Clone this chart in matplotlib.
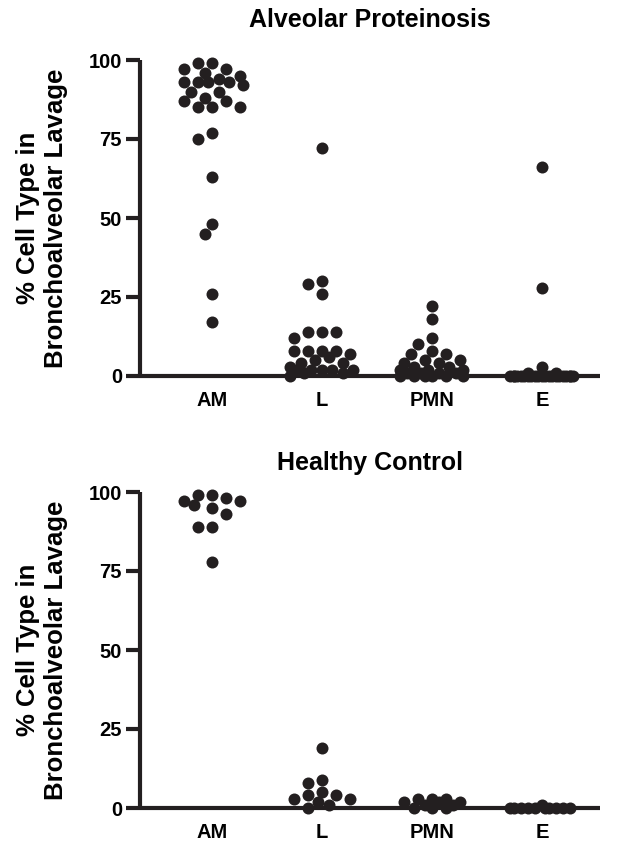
import matplotlib
matplotlib.use("Agg")
import matplotlib.pyplot as plt
import numpy as np

plt.rcParams['font.family'] = ['Liberation Sans', 'DejaVu Sans']
plt.rcParams['font.weight'] = 'bold'

INK = '#231f20'

categories = ['AM', 'L', 'PMN', 'E']
yticks = [0, 25, 50, 75, 100]

# Alveolar proteinosis (% of cells in BAL)
pap_am = [99, 99, 97, 97, 96, 95, 94, 93, 93, 93, 93, 92, 90, 90, 88, 87, 87,
          85, 85, 85, 77, 75, 63, 48, 45, 26, 17]
pap_l = [72, 30, 29, 26, 14, 14, 14, 12, 8, 8, 8, 8, 7, 6, 5, 4, 4, 3,
         2, 2, 2, 2, 2, 1, 1, 0]
pap_pmn = [22, 18, 12, 10, 8, 7, 7, 5, 5, 4, 4, 3, 3, 2, 2, 2, 1, 1, 1,
           1, 0, 0, 0, 0, 0, 0]
pap_e = [66, 28, 3, 1, 1, 0, 0, 0, 0, 0, 0, 0, 0, 0, 0, 0, 0, 0, 0, 0,
         0, 0, 0, 0, 0, 0]

# Healthy control
hc_am = [99, 99, 98, 97, 97, 95, 96, 93, 89, 89, 78]
hc_l = [19, 9, 8, 5, 4, 4, 3, 3, 2, 1, 0]
hc_pmn = [3, 3, 3, 2, 2, 2, 1, 1, 0, 0, 0]
hc_e = [1, 0, 0, 0, 0, 0, 0, 0, 0, 0, 0]

panels = [
    ('Alveolar Proteinosis', [pap_am, pap_l, pap_pmn, pap_e]),
    ('Healthy Control', [hc_am, hc_l, hc_pmn, hc_e]),
]

W, H = 618, 844
fig = plt.figure(figsize=(W / 100, H / 100), dpi=100)

DIAM = 12.0      # marker diameter in pixels
STEP = 7.0       # horizontal step between swarm slots (px)
HALF = 32.0      # max half-width of a column (px)


def swarm_x(ax, xc, values):
    """Greedy beeswarm: returns x data positions for values around xc."""
    to_px = ax.transData.transform
    inv = ax.transData.inverted().transform
    x0 = to_px((xc, 0))[0]
    placed = []
    xs = []
    cands = [0.0]
    k = 1
    while k * STEP <= HALF + 1e-6:
        cands += [-k * STEP, k * STEP]
        k += 1
    fine = np.arange(-HALF, HALF + 0.1, STEP / 2)
    for v in values:
        ypx = to_px((xc, v))[1]
        chosen = None
        for c in cands:
            ok = all(np.hypot(c - px, ypx - py) >= DIAM * 0.92 for px, py in placed)
            if ok:
                chosen = c
                break
        if chosen is None:
            best, bestd = 0.0, -1
            for c in sorted(fine, key=abs):
                d = min(np.hypot(c - px, ypx - py) for px, py in placed)
                if d > bestd + 1e-6:
                    best, bestd = c, d
            chosen = best
        placed.append((chosen, ypx))
        xs.append(inv((x0 + chosen, ypx))[0])
    return xs


def px_axes(left, top, right, bottom):
    return fig.add_axes([left / W, 1 - bottom / H, (right - left) / W, (bottom - top) / H])


axes_px = [(140, 60, 600, 376), (140, 492, 600, 808)]
title_pad = [24, 16]

for (title, groups), box, pad in zip(panels, axes_px, title_pad):
    ax = px_axes(*box)
    x_lo = -(212 - 140) / 110
    x_hi = 3 + (600 - 542) / 110
    ax.set_xlim(x_lo, x_hi)
    ax.set_ylim(0, 100)

    for i, vals in enumerate(groups):
        xs = swarm_x(ax, i, vals)
        ax.scatter(xs, vals, s=DIAM * 0.72 * DIAM * 0.72, color=INK,
                   linewidths=0, clip_on=False, zorder=3)

    for side in ['top', 'right']:
        ax.spines[side].set_visible(False)
    for side in ['left', 'bottom']:
        ax.spines[side].set_linewidth(3)
        ax.spines[side].set_color(INK)
        ax.spines[side].set_capstyle('butt')

    ax.set_yticks(yticks)
    ax.set_yticklabels([str(t) for t in yticks], fontsize=14.5, fontweight='bold')
    ax.tick_params(axis='y', length=10, width=3, color=INK, pad=3)
    ax.set_xticks(range(len(categories)))
    ax.set_xticklabels(categories, fontsize=14.5, fontweight='bold')
    ax.tick_params(axis='x', length=0, pad=11)

    ax.set_title(title, fontsize=18, fontweight='bold', pad=pad)

    yc = (box[1] + box[3]) / 2
    fig.text(42 / W, 1 - yc / H, '% Cell Type in\nBronchoalveolar Lavage',
             rotation=90, ha='center', va='center', multialignment='center',
             fontsize=18.5, fontweight='bold', linespacing=1.2)

fig.savefig('out.png', dpi=100)
